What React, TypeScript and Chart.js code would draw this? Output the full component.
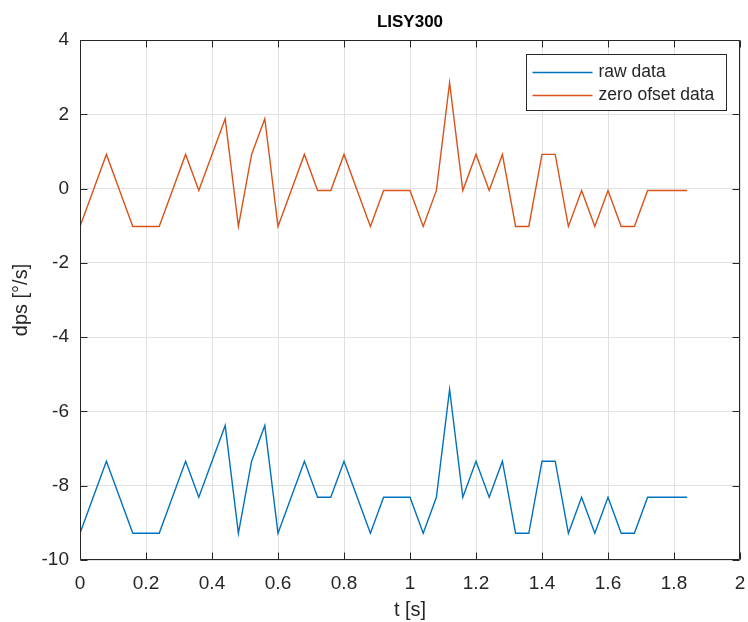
import React, { useEffect, useRef } from 'react';
import { Chart, registerables } from 'chart.js';

Chart.register(...registerables);

const chartTitle = 'LISY300';
const xAxisLabel = 't [s]';
const yAxisLabel = 'dps [°/s]';
const seriesNames = ['raw data', 'zero ofset data'];
const seriesColors = ['#0072BD', '#D95319'];

const timeS = [
  0, 0.04, 0.08, 0.12, 0.16, 0.2, 0.24, 0.28, 0.32, 0.36,
  0.4, 0.44, 0.48, 0.52, 0.56, 0.6, 0.64, 0.68, 0.72, 0.76,
  0.8, 0.84, 0.88, 0.92, 0.96, 1.0, 1.04, 1.08, 1.12, 1.16,
  1.2, 1.24, 1.28, 1.32, 1.36, 1.4, 1.44, 1.48, 1.52, 1.56,
  1.6, 1.64, 1.68, 1.72, 1.76, 1.8, 1.84,
];

const rawData = [
  -9.28, -8.31, -7.34, -8.31, -9.28, -9.28, -9.28, -8.31, -7.34, -8.31,
  -7.34, -6.38, -9.28, -7.34, -6.38, -9.28, -8.31, -7.34, -8.31, -8.31,
  -7.34, -8.31, -9.28, -8.31, -8.31, -8.31, -9.28, -8.31, -5.41, -8.31,
  -7.34, -8.31, -7.34, -9.28, -9.28, -7.34, -7.34, -9.28, -8.31, -9.28,
  -8.31, -9.28, -9.28, -8.31, -8.31, -8.31, -8.31,
];

const zeroOffsetData = [
  -1.02, -0.05, 0.92, -0.05, -1.02, -1.02, -1.02, -0.05, 0.92, -0.05,
  0.92, 1.88, -1.02, 0.92, 1.88, -1.02, -0.05, 0.92, -0.05, -0.05,
  0.92, -0.05, -1.02, -0.05, -0.05, -0.05, -1.02, -0.05, 2.85, -0.05,
  0.92, -0.05, 0.92, -1.02, -1.02, 0.92, 0.92, -1.02, -0.05, -1.02,
  -0.05, -1.02, -1.02, -0.05, -0.05, -0.05, -0.05,
];

const xTicks = [0, 0.2, 0.4, 0.6, 0.8, 1, 1.2, 1.4, 1.6, 1.8, 2];
const yTicks = [-10, -8, -6, -4, -2, 0, 2, 4];

const FONT = '"Liberation Sans", Arial, Helvetica, sans-serif';
const TEXT = '#262626';

const matlabPlugin = {
  id: 'matlabDecor',
  afterDraw(chart: any) {
    const { ctx, chartArea: a, scales } = chart;
    ctx.save();
    const L = Math.round(a.left) + 0.5;
    const R = Math.round(a.right) - 0.5;
    const T = Math.round(a.top) + 0.5;
    const B = Math.round(a.bottom) - 0.5;
    ctx.strokeStyle = TEXT;
    ctx.lineWidth = 1;
    ctx.beginPath();
    ctx.rect(L, T, R - L, B - T);
    ctx.stroke();
    const tl = 7;
    ctx.beginPath();
    xTicks.forEach((v) => {
      const px = Math.round(scales.x.getPixelForValue(v)) + 0.5;
      ctx.moveTo(px, B);
      ctx.lineTo(px, B - tl);
      ctx.moveTo(px, T);
      ctx.lineTo(px, T + tl);
    });
    yTicks.forEach((v) => {
      const py = Math.round(scales.y.getPixelForValue(v)) + 0.5;
      ctx.moveTo(L, py);
      ctx.lineTo(L + tl, py);
      ctx.moveTo(R, py);
      ctx.lineTo(R - tl, py);
    });
    ctx.stroke();

    // legend
    const lw = 200;
    const lh = 56;
    const lx = Math.round(a.right - 14 - lw) + 0.5;
    const ly = Math.round(a.top + 14) + 0.5;
    ctx.fillStyle = '#ffffff';
    ctx.fillRect(lx, ly, lw, lh);
    ctx.strokeStyle = TEXT;
    ctx.strokeRect(lx, ly, lw, lh);
    ctx.font = `17.5px ${FONT}`;
    ctx.textBaseline = 'middle';
    ctx.textAlign = 'left';
    chart.data.datasets.forEach((ds: any, i: number) => {
      const cy = ly + 18 + i * 23;
      ctx.strokeStyle = ds.borderColor;
      ctx.lineWidth = 1.4;
      ctx.beginPath();
      ctx.moveTo(lx + 6, cy);
      ctx.lineTo(lx + 66, cy);
      ctx.stroke();
      ctx.fillStyle = TEXT;
      ctx.fillText(ds.label, lx + 72, cy);
    });

    // title
    const cx = (a.left + a.right) / 2;
    ctx.fillStyle = '#000000';
    ctx.font = `bold 17px ${FONT}`;
    ctx.textAlign = 'center';
    ctx.fillText(chartTitle, cx, 22);

    // axis labels
    ctx.fillStyle = TEXT;
    ctx.font = `20px ${FONT}`;
    ctx.fillText(xAxisLabel, cx, 610);
    ctx.save();
    ctx.translate(21, (a.top + a.bottom) / 2);
    ctx.rotate(-Math.PI / 2);
    ctx.fillText(yAxisLabel, 0, 0);
    ctx.restore();

    ctx.restore();
  },
};

export default function App() {
  const canvasRef = useRef<HTMLCanvasElement | null>(null);

  useEffect(() => {
    if (!canvasRef.current) return;
    const chart = new Chart(canvasRef.current, {
      type: 'line',
      data: {
        datasets: [
          {
            label: seriesNames[0],
            data: timeS.map((t, i) => ({ x: t, y: rawData[i] })),
            borderColor: seriesColors[0],
            backgroundColor: seriesColors[0],
            borderWidth: 1.4,
            pointRadius: 0,
            tension: 0,
          },
          {
            label: seriesNames[1],
            data: timeS.map((t, i) => ({ x: t, y: zeroOffsetData[i] })),
            borderColor: seriesColors[1],
            backgroundColor: seriesColors[1],
            borderWidth: 1.4,
            pointRadius: 0,
            tension: 0,
          },
        ],
      },
      options: {
        animation: false,
        responsive: false,
        events: [],
        layout: { padding: { top: 40, right: 8, left: 0, bottom: 0 } },
        plugins: {
          legend: { display: false },
          title: { display: false },
          tooltip: { enabled: false },
        },
        scales: {
          x: {
            type: 'linear',
            min: 0,
            max: 2,
            afterBuildTicks: (scale: any) => {
              scale.ticks = xTicks.map((v) => ({ value: v }));
            },
            afterFit: (scale: any) => {
              scale.height = 62;
              scale.paddingLeft = 0;
              scale.paddingRight = 0;
            },
            ticks: {
              padding: 12,
              color: TEXT,
              font: { family: FONT, size: 19 },
              maxRotation: 0,
              autoSkip: false,
              callback: (v: any) => String(parseFloat(Number(v).toFixed(2))),
            },
            grid: { color: '#e1e1e1', drawTicks: false, lineWidth: 1 },
            border: { display: false },
          },
          y: {
            type: 'linear',
            min: -10,
            max: 4,
            afterBuildTicks: (scale: any) => {
              scale.ticks = yTicks.map((v) => ({ value: v }));
            },
            afterFit: (scale: any) => {
              scale.width = 80;
              scale.paddingTop = 0;
              scale.paddingBottom = 0;
            },
            ticks: {
              padding: 11,
              color: TEXT,
              font: { family: FONT, size: 19 },
              autoSkip: false,
              callback: (v: any) => String(v),
            },
            grid: { color: '#e1e1e1', drawTicks: false, lineWidth: 1 },
            border: { display: false },
          },
        },
      },
      plugins: [matlabPlugin],
    } as any);
    return () => chart.destroy();
  }, []);

  return (
    <div style={{ position: 'absolute', left: 0, top: 0, width: 748, height: 622, background: '#ffffff' }}>
      <canvas ref={canvasRef} width={748} height={622} />
    </div>
  );
}
